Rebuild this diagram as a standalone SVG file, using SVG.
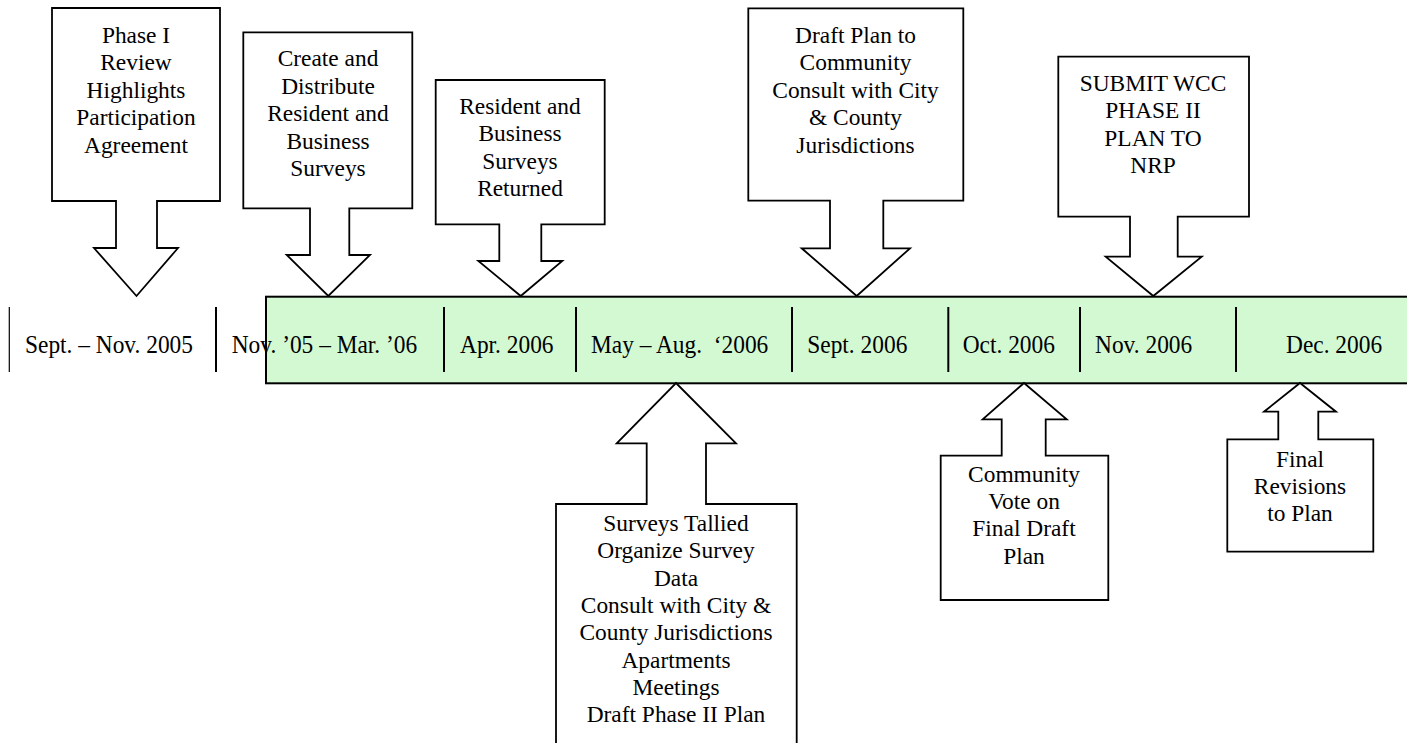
<svg xmlns="http://www.w3.org/2000/svg" width="1407" height="743" viewBox="0 0 1407 743">
<style>
.co{fill:#fff;stroke:#000;stroke-width:1.8;stroke-linejoin:miter}
.t{font-family:"Liberation Serif","Times New Roman",serif;font-size:23.4px;fill:#000;text-anchor:middle}
.d{font-family:"Liberation Serif","Times New Roman",serif;font-size:23.4px;fill:#000;white-space:pre}
.dv{stroke:#000;stroke-width:2}
</style>
<rect width="1407" height="743" fill="#fff"/>
<g id="timeline">
<rect x="266" y="296.7" width="1150" height="86.6" fill="#d3f9d3" stroke="#000" stroke-width="2"/>
<line x1="9.3" y1="307" x2="9.3" y2="372" stroke="#000" stroke-width="1.2"/>
<line class="dv" x1="216" y1="307" x2="216" y2="372"/>
<line class="dv" x1="444" y1="307" x2="444" y2="372"/>
<line class="dv" x1="576" y1="307" x2="576" y2="372"/>
<line class="dv" x1="792" y1="307" x2="792" y2="372"/>
<line class="dv" x1="948.3" y1="307" x2="948.3" y2="372"/>
<line class="dv" x1="1080" y1="307" x2="1080" y2="372"/>
<line class="dv" x1="1236" y1="307" x2="1236" y2="372"/>
<text class="d" transform="translate(25,352.5) scale(1,1.1)">Sept. – Nov. 2005</text>
<text class="d" transform="translate(231.7,352.5) scale(1,1.1)">Nov. ’05 – Mar. ’06</text>
<text class="d" transform="translate(460,352.5) scale(1,1.1)">Apr. 2006</text>
<text class="d" transform="translate(591,352.5) scale(1,1.1)">May – Aug.  ‘2006</text>
<text class="d" transform="translate(807.3,352.5) scale(1,1.1)">Sept. 2006</text>
<text class="d" transform="translate(962.7,352.5) scale(1,1.1)">Oct. 2006</text>
<text class="d" transform="translate(1095,352.5) scale(1,1.1)">Nov. 2006</text>
<text class="d" transform="translate(1286,352.5) scale(1,1.1)">Dec. 2006</text>
</g>
<g id="connectors"></g>
<g id="phase1">
<path class="co" d="M52,8 H220 V201 H157 V248 H178 L136.5,296 L94,248 H116 V201 H52 Z"/>
<text class="t"><tspan x="136" y="42.5">Phase I</tspan><tspan x="136" y="70">Review</tspan><tspan x="136" y="97.5">Highlights</tspan><tspan x="136" y="125">Participation</tspan><tspan x="136" y="152.5">Agreement</tspan></text>
</g>
<g id="create-surveys">
<path class="co" d="M243.3,32.3 H412.3 V208.3 H349.3 V255 H370 L328.3,296 L286.7,255 H310 V208.3 H243.3 Z"/>
<text class="t"><tspan x="328" y="66.3">Create and</tspan><tspan x="328" y="93.8">Distribute</tspan><tspan x="328" y="121.3">Resident and</tspan><tspan x="328" y="148.8">Business</tspan><tspan x="328" y="176.3">Surveys</tspan></text>
</g>
<g id="surveys-returned">
<path class="co" d="M435.7,80 H604.7 V224.3 H541.3 V261 H562.3 L520.7,296 L478.3,261 H499.3 V224.3 H435.7 Z"/>
<text class="t"><tspan x="520" y="113.8">Resident and</tspan><tspan x="520" y="141.3">Business</tspan><tspan x="520" y="168.8">Surveys</tspan><tspan x="520" y="196.3">Returned</tspan></text>
</g>
<g id="draft-plan">
<path class="co" d="M748.3,8.3 H963.3 V200.7 H883.3 V248.3 H910 L856.7,296 L801.7,248.3 H830 V200.7 H748.3 Z"/>
<text class="t"><tspan x="855.5" y="42.5">Draft Plan to</tspan><tspan x="855.5" y="70">Community</tspan><tspan x="855.5" y="97.5">Consult with City</tspan><tspan x="855.5" y="125">&amp; County</tspan><tspan x="855.5" y="152.5">Jurisdictions</tspan></text>
</g>
<g id="submit">
<path class="co" d="M1058.3,56.7 H1249 V216.7 H1177.7 V256.7 H1201.7 L1153.3,296 L1105.7,256.7 H1130 V216.7 H1058.3 Z"/>
<text class="t"><tspan x="1153" y="90.5">SUBMIT WCC</tspan><tspan x="1153" y="118">PHASE II</tspan><tspan x="1153" y="145.5">PLAN TO</tspan><tspan x="1153" y="173">NRP</tspan></text>
</g>
<g id="tally">
<path class="co" d="M676,383 L736,443.3 H706 V504 H796.7 V750 H556 V504 H646.7 V443.3 H616.7 Z"/>
<text class="t"><tspan x="676" y="531">Surveys Tallied</tspan><tspan x="676" y="558.3">Organize Survey</tspan><tspan x="676" y="585.6">Data</tspan><tspan x="676" y="612.9">Consult with City &amp;</tspan><tspan x="676" y="640.2">County Jurisdictions</tspan><tspan x="676" y="667.5">Apartments</tspan><tspan x="676" y="694.8">Meetings</tspan><tspan x="676" y="722.1">Draft Phase II Plan</tspan></text>
</g>
<g id="vote">
<path class="co" d="M1024,383 L1066.7,419.3 H1045.7 V455.7 H1108.3 V600 H940.7 V455.7 H1001.7 V419.3 H982.7 Z"/>
<text class="t"><tspan x="1024" y="481.7">Community</tspan><tspan x="1024" y="509">Vote on</tspan><tspan x="1024" y="536.4">Final Draft</tspan><tspan x="1024" y="563.7">Plan</tspan></text>
</g>
<g id="revisions">
<path class="co" d="M1300,383 L1336,411.7 H1318.3 V439.3 H1373.3 V551.7 H1227.3 V439.3 H1278.3 V411.7 H1264 Z"/>
<text class="t"><tspan x="1300" y="466.7">Final</tspan><tspan x="1300" y="494">Revisions</tspan><tspan x="1300" y="521.3">to Plan</tspan></text>
</g>
</svg>
